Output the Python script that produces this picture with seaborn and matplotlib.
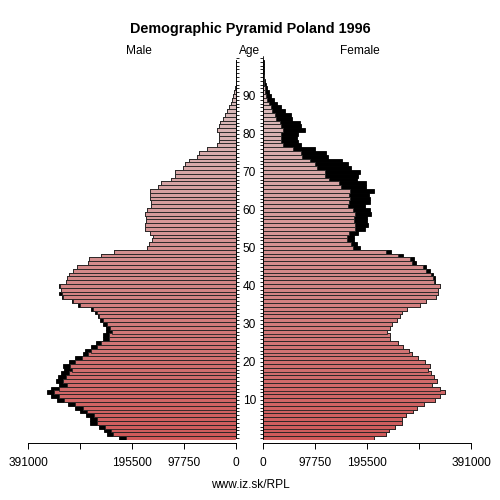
import numpy as np
import pandas as pd
import matplotlib
matplotlib.use("Agg")
import matplotlib.pyplot as plt
import seaborn as sns
from matplotlib.colors import to_hex

ages = list(range(0, 101))

male = [
    220000, 242500, 248700, 258000, 275000, 275000, 283000, 294000, 302700, 315800,
    336500, 348400, 356500, 349000, 332800, 339000, 335200, 330100, 324000, 325200,
    314500, 303200, 288800, 284400, 273200, 263800, 251200, 250000, 245000, 245000,
    251200, 256200, 260600, 265600, 273700, 297000, 309400, 328200, 332800, 330100,
    332800, 320700, 318800, 315100, 306400, 300000, 279400, 276400, 253800, 230000,
    168500, 165000, 158000, 156500, 162000, 171700, 172000, 169800, 170000, 172500,
    168500, 160000, 160800, 163000, 162000, 162300, 146600, 141600, 123400, 116000,
    116000, 100500, 97200, 88400, 73000, 70500, 55700, 37000, 33200, 32800,
    32400, 37000, 33000, 30700, 24400, 22000, 16600, 13800, 10300, 7800,
    5600, 3800, 2500, 1300, 800, 500, 350, 250, 150, 100, 80,
]

female = [
    208000, 231000, 236000, 247000, 261000, 261000, 268000, 281000, 288000, 302700,
    323400, 332800, 342200, 332800, 317700, 326600, 320300, 315300, 309000, 312800,
    303400, 290800, 279600, 273300, 262600, 253800, 238800, 238800, 233100, 237600,
    242500, 251400, 257600, 261300, 269600, 294000, 306400, 325200, 328400, 329000,
    332200, 322200, 322200, 319000, 312800, 305300, 287100, 282700, 262600, 240600,
    181200, 176200, 170500, 170500, 178000, 191800, 196800, 195500, 195500, 203000,
    200000, 191800, 200000, 200000, 198200, 208100, 192500, 192500, 176200, 178000,
    182300, 164300, 159200, 148500, 121600, 118400, 97800, 71400, 65200, 63900,
    65200, 77700, 70200, 68300, 54500, 52600, 40100, 33800, 26300, 20100,
    13800, 10000, 7500, 5000, 3800, 2200, 1500, 1000, 600, 400, 300,
]

x_ticks = [0, 97750, 195500, 293250, 391000]
x_tick_labels = ["0", "97750", "195500", "", "391000"]
age_label_ticks = [10, 20, 30, 40, 50, 60, 70, 80, 90]

title = "Demographic Pyramid Poland 1996"
footer = "www.iz.sk/RPL"

sns.set_theme(style="white")
plt.rcParams["font.family"] = ["Liberation Sans", "DejaVu Sans"]
plt.rcParams["xtick.labelsize"] = 8.6
plt.rcParams["ytick.labelsize"] = 8.6
plt.rcParams["text.color"] = "black"
plt.rcParams["xtick.color"] = "black"
plt.rcParams["ytick.color"] = "black"

df = pd.DataFrame({"age": ages, "male": male, "female": female})
df["common"] = np.minimum(df["male"], df["female"])
df["agestr"] = df["age"].astype(str)

c0 = np.array([226, 70, 70]) / 255.0
c1 = np.array([222, 196, 196]) / 255.0
palette = {}
for a in ages:
    t = a / 100.0
    palette[str(a)] = to_hex(c0 * (1 - t) + c1 * t)

fig = plt.figure(figsize=(5, 5), dpi=100)
W = 500.0
bottom = (500 - 439.9) / W
height = 383.8 / W
axL = fig.add_axes([28.3 / W, bottom, 208 / W, height])
axR = fig.add_axes([263.3 / W, bottom, 208 / W, height])

for ax, col in ((axL, "male"), (axR, "female")):
    sns.barplot(data=df, x=col, y="age", orient="h", native_scale=True,
                color="black", width=1.0, edgecolor="black", linewidth=0.6,
                errorbar=None, ax=ax)
    sns.barplot(data=df, x="common", y="age", hue="agestr", palette=palette,
                orient="h", native_scale=True, dodge=False, legend=False,
                width=1.0, edgecolor="#222222", linewidth=0.6,
                errorbar=None, ax=ax)
    ax.set_ylim(-0.5, 100.5)
    ax.set_xlabel("")
    ax.set_ylabel("")
    ax.set_xticks(x_ticks)
    ax.set_xticklabels(x_tick_labels)
    ax.tick_params(axis="x", direction="out", length=4.5, width=0.7,
                   pad=5.5, colors="black", bottom=True, labelsize=8.6)
    ax.spines["bottom"].set_position(("outward", 2.5))
    ax.spines["bottom"].set_linewidth(0.7)
    ax.spines["bottom"].set_color("black")
    ax.spines["top"].set_visible(False)
    ax.grid(False)

axL.set_xlim(391000, 0)
axR.set_xlim(0, 391000)

# age axis on left panel (right edge)
axL.spines["left"].set_visible(False)
axL.spines["right"].set_visible(True)
axL.spines["right"].set_bounds(0, 99.5)
axL.spines["right"].set_linewidth(0.7)
axL.spines["right"].set_color("black")
axL.yaxis.tick_right()
axL.set_yticks(age_label_ticks)
axL.set_yticklabels([str(a) for a in age_label_ticks])
axL.set_yticks(ages, minor=True)
axL.tick_params(axis="y", which="both", direction="out", length=2.2,
                width=0.6, colors="black", right=True, left=False,
                labelsize=8.6)
axL.tick_params(axis="y", which="major", pad=7.3)
for lab in axL.get_yticklabels():
    lab.set_horizontalalignment("center")

axR.spines["right"].set_visible(False)
axR.spines["left"].set_visible(True)
axR.spines["left"].set_bounds(0, 99.5)
axR.spines["left"].set_linewidth(0.7)
axR.spines["left"].set_color("black")
axR.set_yticks(age_label_ticks)
axR.set_yticklabels([])
axR.set_yticks(ages, minor=True)
axR.tick_params(axis="y", which="both", direction="out", length=2.2,
                width=0.6, colors="black", left=True, right=False)

fig.text(250 / W, 1 - 29 / W, title, ha="center", va="center",
         fontsize=10.4, fontweight="bold", color="black")
fig.text(139 / W, 1 - 51 / W, "Male", ha="center", va="center", fontsize=8.6, color="black")
fig.text(250 / W, 1 - 51 / W, "Age", ha="center", va="center", fontsize=8.6, color="black")
fig.text(360 / W, 1 - 51 / W, "Female", ha="center", va="center", fontsize=8.6, color="black")
fig.text(250 / W, 1 - 485 / W, footer, ha="center", va="center", fontsize=8.6, color="black")

fig.savefig("out.png", dpi=100, facecolor="white")
